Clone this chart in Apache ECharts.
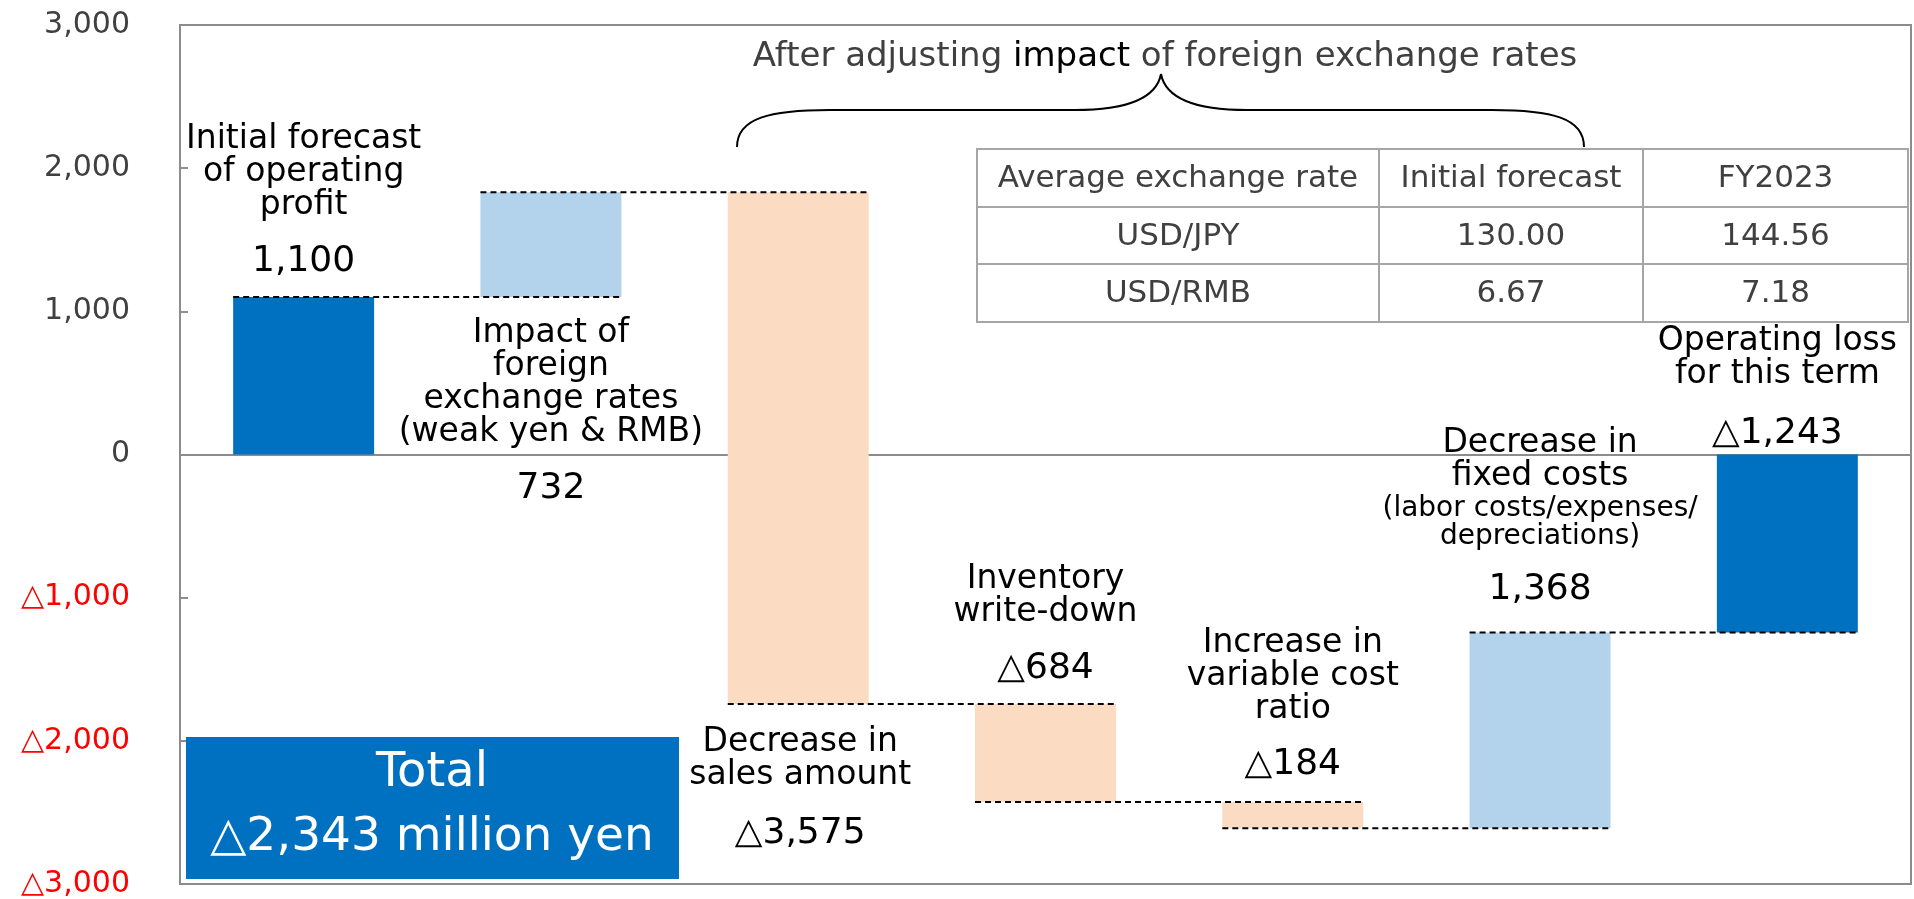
<!DOCTYPE html>
<html>

<head>
    <meta charset="utf-8">
    <title>Operating profit bridge</title>
    <script src="https://cdn.jsdelivr.net/npm/echarts@6/dist/echarts.min.js"></script>
</head>

<body style="margin:0">
    <div id="main" style="width: 1914px;height:899px;"></div>
    <script type="text/javascript">
    // ----- data
    const categories = ['Initial forecast', 'FX impact', 'Sales amount', 'Inventory', 'Variable cost', 'Fixed costs', 'Operating loss'];
    const deltas = [1100, 732, -3575, -684, -184, 1368, -1243];
    const isTotal = [true, false, false, false, false, false, true];
    const yTicks = [-3000, -2000, -1000, 0, 1000, 2000, 3000];

    const captionLines = [
        ['Initial forecast', 'of operating', 'profit'],
        ['Impact of', 'foreign', 'exchange rates', '(weak yen & RMB)'],
        ['Decrease in', 'sales amount'],
        ['Inventory', 'write-down'],
        ['Increase in', 'variable cost', 'ratio'],
        ['Decrease in', 'fixed costs'],
        ['Operating loss', 'for this term']
    ];
    const fixedCostNote = ['(labor costs/expenses/', 'depreciations)'];

    const rateHeader = ['Average exchange rate', 'Initial forecast', 'FY2023'];
    const ratePairs = ['USD/JPY', 'USD/RMB'];
    const rateForecast = ['130.00', '6.67'];
    const rateActual = ['144.56', '7.18'];

    const DARK = '#0070C0', LIGHT = '#B3D3EC', PEACH = '#FBDBC1';

    // ----- waterfall start / end
    let run = 0;
    const bars = deltas.map((d, i) => {
        let s, e;
        if (isTotal[i]) { s = 0; e = d; } else { s = run; e = run + d; }
        run = e;
        return [i, s, e, d];
    });

    function fmt(v) {
        const s = Math.abs(v).toLocaleString('en-US');
        return v < 0 ? '△' + s : s;
    }

    const font = '"DejaVu Sans", Verdana, sans-serif';

    var myChart = echarts.init(document.getElementById('main'));

    var option = {
        animation: false,
        grid: {
            left: 180, right: 3, top: 25, bottom: 11,
            show: true, borderColor: '#8c8c8c', borderWidth: 2
        },
        xAxis: {
            type: 'category',
            data: categories,
            axisLine: { onZero: true, lineStyle: { color: '#8c8c8c', width: 2 } },
            axisTick: { show: false },
            axisLabel: { show: false },
            splitLine: { show: false }
        },
        yAxis: {
            type: 'value',
            min: -3000, max: 3000, interval: 1000,
            axisLine: { show: true, lineStyle: { color: '#8c8c8c', width: 2 } },
            axisTick: { show: true, inside: true, length: 8, lineStyle: { color: '#8c8c8c', width: 2 } },
            splitLine: { show: false },
            axisLabel: {
                margin: 50,
                fontSize: 30,
                fontFamily: font,
                formatter: v => fmt(v),
                color: v => (v < 0 ? '#ff0000' : '#404040')
            }
        },
        series: [{
            type: 'custom',
            data: bars,
            encode: { x: 0, y: [1, 2] },
            renderItem: function (params, api) {
                const i = api.value(0);
                const p0 = api.coord([i, api.value(1)]);
                const p1 = api.coord([i, api.value(2)]);
                const band = api.size([1, 0])[0];
                const w = band * 0.57;
                const d = api.value(3);
                const color = isTotal[i] ? DARK : (d > 0 ? LIGHT : PEACH);
                const children = [{
                    type: 'rect',
                    shape: { x: p0[0] - w / 2, y: Math.min(p0[1], p1[1]), width: w, height: Math.abs(p1[1] - p0[1]) },
                    style: { fill: color }
                }];
                if (i < bars.length - 1) {
                    const q = api.coord([i + 1, api.value(2)]);
                    children.push({
                        type: 'line',
                        z2: 10,
                        shape: { x1: p0[0] - w / 2, y1: p1[1], x2: q[0] + w / 2, y2: p1[1] },
                        style: { stroke: '#000', lineWidth: 2, lineDash: [6, 4] }
                    });
                }
                return { type: 'group', children: children };
            }
        }]
    };

    myChart.setOption(option);

    // ----- annotations
    const xs = categories.map((c, i) => myChart.convertToPixel({ xAxisIndex: 0 }, i));
    const captionY = [172, 383, 759, 596, 676, 460, 358];
    const captionDx = [0, 0, 2, 0, 0, 0, -10];
    const valueY = [262, 489, 834, 669, 765, 590, 434];

    const g = [];
    captionLines.forEach((lines, i) => {
        g.push({
            type: 'text', x: xs[i] + captionDx[i], y: captionY[i], z: 20,
            style: {
                text: lines.join('\n'), fontSize: 33, lineHeight: 33,
                fontFamily: font, fill: '#000', align: 'center', verticalAlign: 'middle'
            }
        });
        g.push({
            type: 'text', x: xs[i] + captionDx[i], y: valueY[i], z: 20,
            style: {
                text: fmt(deltas[i]), fontSize: 36, fontFamily: font, fill: '#000',
                align: 'center', verticalAlign: 'middle'
            }
        });
    });
    g.push({
        type: 'text', x: xs[5], y: 523, z: 20,
        style: {
            text: fixedCostNote.join('\n'), fontSize: 28, lineHeight: 28,
            fontFamily: font, fill: '#000', align: 'center', verticalAlign: 'middle'
        }
    });

    // brace + heading
    g.push({
        type: 'text', x: 1165, y: 57, z: 20,
        style: {
            rich: {
                a: { fontSize: 34, fontFamily: font, fill: '#404040' },
                b: { fontSize: 34, fontFamily: font, fill: '#000' }
            },
            text: '{a|After adjusting }{b|impact}{a| of foreign exchange rates}',
            align: 'center', verticalAlign: 'middle'
        }
    });
    const braceStyle = { fill: null, stroke: '#000', lineWidth: 2 };
    const braceParts = [
        { type: 'bezierCurve', shape: { x1: 737, y1: 147, cpx1: 737, cpy1: 118, cpx2: 770, cpy2: 110, x2: 830, y2: 110 } },
        { type: 'line', shape: { x1: 830, y1: 110, x2: 1075, y2: 110 } },
        { type: 'bezierCurve', shape: { x1: 1075, y1: 110, cpx1: 1135, cpy1: 110, cpx2: 1157, cpy2: 95, x2: 1161, y2: 74 } },
        { type: 'bezierCurve', shape: { x1: 1161, y1: 74, cpx1: 1165, cpy1: 95, cpx2: 1187, cpy2: 110, x2: 1247, y2: 110 } },
        { type: 'line', shape: { x1: 1247, y1: 110, x2: 1492, y2: 110 } },
        { type: 'bezierCurve', shape: { x1: 1492, y1: 110, cpx1: 1552, cpy1: 110, cpx2: 1584, cpy2: 118, x2: 1584, y2: 147 } }
    ];
    braceParts.forEach(p => { p.z = 20; p.style = braceStyle; g.push(p); });

    // exchange rate table
    const colX = [977, 1379, 1643, 1908];
    const rowY = [149, 207, 264, 322];
    const cells = [rateHeader,
        [ratePairs[0], rateForecast[0], rateActual[0]],
        [ratePairs[1], rateForecast[1], rateActual[1]]];
    for (let r = 0; r < 3; r++) {
        for (let c = 0; c < 3; c++) {
            g.push({
                type: 'rect', z: 15,
                shape: { x: colX[c], y: rowY[r], width: colX[c + 1] - colX[c], height: rowY[r + 1] - rowY[r] },
                style: { fill: '#fff', stroke: '#a6a6a6', lineWidth: 2 }
            });
            g.push({
                type: 'text', z: 16,
                x: (colX[c] + colX[c + 1]) / 2, y: (rowY[r] + rowY[r + 1]) / 2 + 1,
                style: {
                    text: cells[r][c], fontSize: 31, fontFamily: font, fill: '#404040',
                    align: 'center', verticalAlign: 'middle'
                }
            });
        }
    }

    // total box
    const total = bars[bars.length - 1][2] - bars[0][2];
    g.push({
        type: 'rect', z: 15,
        shape: { x: 186, y: 737, width: 493, height: 142 },
        style: { fill: DARK }
    });
    g.push({
        type: 'text', x: 432, y: 774, z: 16,
        style: { text: 'Total', fontSize: 48, fontFamily: font, fill: '#fff', align: 'center', verticalAlign: 'middle' }
    });
    g.push({
        type: 'text', x: 432, y: 838, z: 16,
        style: { text: fmt(total) + ' million yen', fontSize: 47, fontFamily: font, fill: '#fff', align: 'center', verticalAlign: 'middle' }
    });

    myChart.setOption({ graphic: g });
    </script>
</body>

</html>
